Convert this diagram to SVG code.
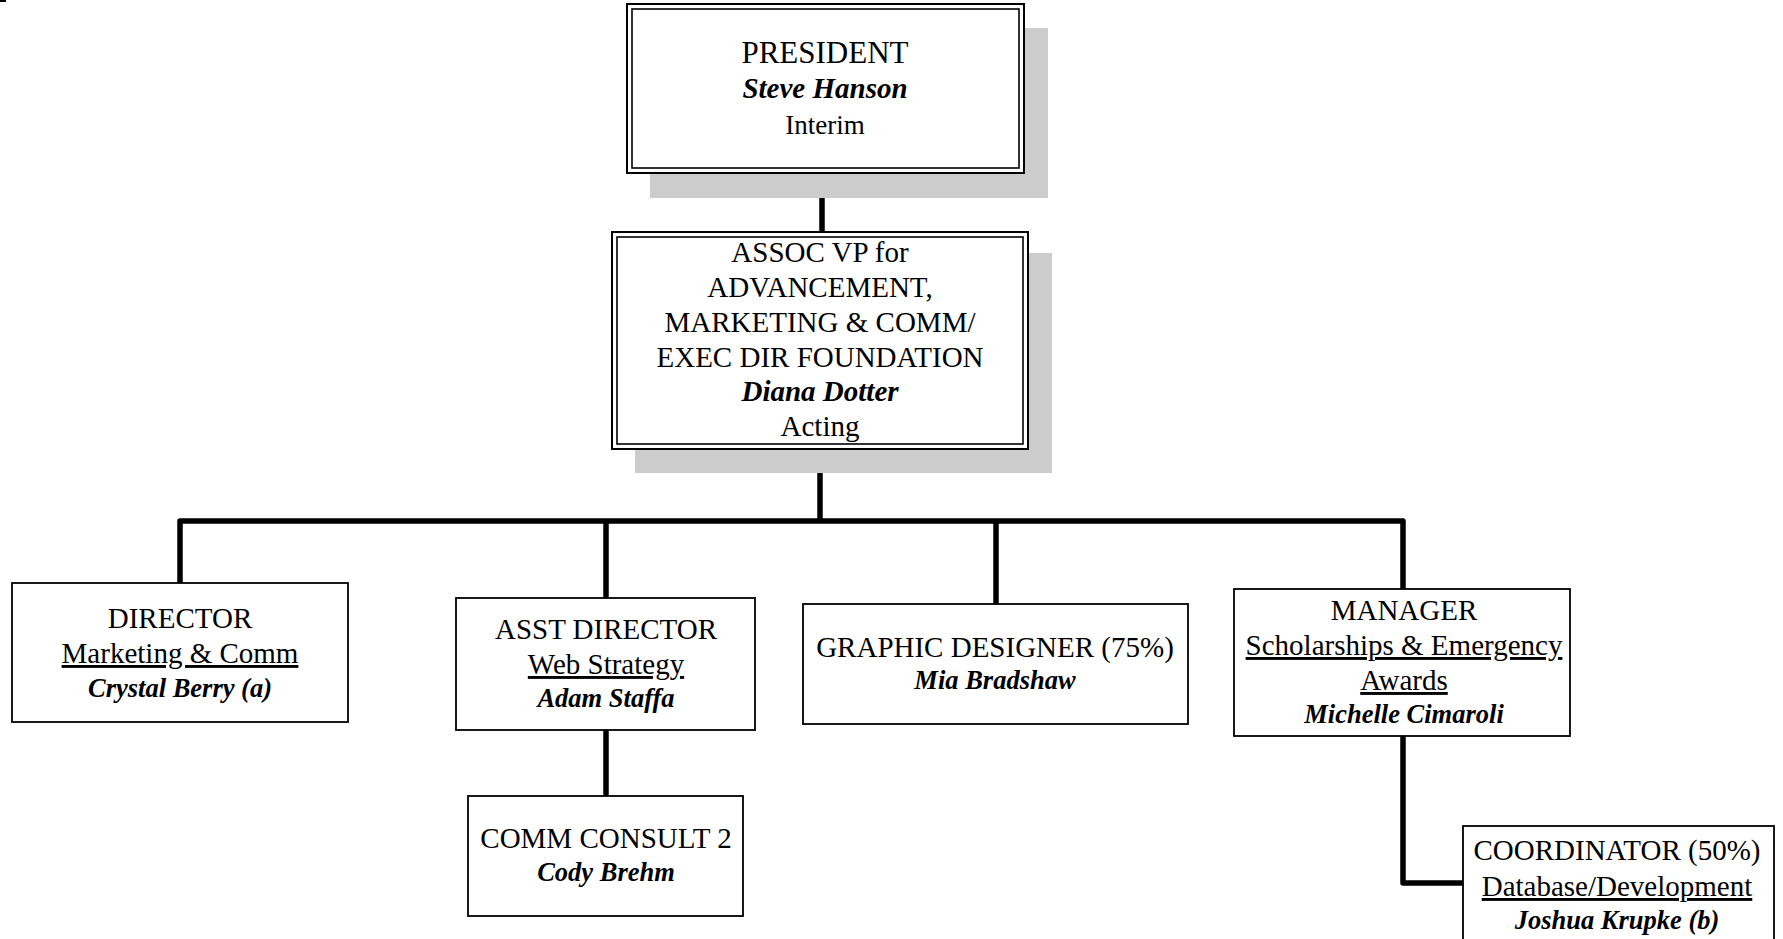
<svg xmlns="http://www.w3.org/2000/svg" width="1783" height="939" viewBox="0 0 1783 939">
<style>
.shadow{fill:#cccccc;stroke:none}
.box{fill:#ffffff;stroke:#000;stroke-width:1.8}
.outer{fill:#ffffff;stroke:#000;stroke-width:2}
.inner{fill:none;stroke:#000;stroke-width:1.6}
.conn{fill:none;stroke:#000;stroke-width:5.5;stroke-linejoin:round;stroke-linecap:butt}
text{font-family:"Liberation Serif","Times New Roman",serif;font-size:29px;fill:#000;text-anchor:middle}
.name{font-weight:bold;font-style:italic;font-size:26.5px}
.topname{font-weight:bold;font-style:italic;font-size:29px}
.u{text-decoration:underline}
</style>
<rect x="0" y="0" width="6" height="2" fill="#000"/>
<g id="connectors">
<path class="conn" d="M822,173 V232"/>
<path class="conn" d="M820,449 V521"/>
<path class="conn" d="M180,583 V521 H1403 V589"/>
<path class="conn" d="M606,521 V598"/>
<path class="conn" d="M996,521 V604"/>
<path class="conn" d="M606,730 V796"/>
<path class="conn" d="M1403,736 V883 H1463"/>
</g>
<g id="president">
<rect class="shadow" x="650" y="28" width="398" height="170"/>
<rect class="outer" x="627" y="4" width="397" height="169"/>
<rect class="inner" x="632" y="9" width="387" height="159"/>
<text x="825" y="63" style="font-size:31px">PRESIDENT</text>
<text class="topname" x="825" y="98">Steve Hanson</text>
<text x="825" y="134" style="font-size:27px">Interim</text>
</g>
<g id="assoc-vp">
<rect class="shadow" x="635" y="253" width="417" height="220"/>
<rect class="outer" x="612" y="232" width="416" height="217"/>
<rect class="inner" x="617" y="237" width="406" height="207"/>
<text x="820" y="262">ASSOC VP for</text>
<text x="820" y="297">ADVANCEMENT,</text>
<text x="820" y="332">MARKETING &amp; COMM/</text>
<text x="820" y="367">EXEC DIR FOUNDATION</text>
<text class="topname" x="820" y="401">Diana Dotter</text>
<text x="820" y="436">Acting</text>
</g>
<g id="director">
<rect class="box" x="12" y="583" width="336" height="139"/>
<text x="180" y="628">DIRECTOR</text>
<text class="u" x="180" y="663">Marketing &amp; Comm</text>
<text class="name" x="180" y="697">Crystal Berry (a)</text>
</g>
<g id="asst-director">
<rect class="box" x="456" y="598" width="299" height="132"/>
<text x="606" y="639">ASST DIRECTOR</text>
<text class="u" x="606" y="674">Web Strategy</text>
<text class="name" x="606" y="707">Adam Staffa</text>
</g>
<g id="comm-consult">
<rect class="box" x="468" y="796" width="275" height="120"/>
<text x="606" y="848">COMM CONSULT 2</text>
<text class="name" x="606" y="881">Cody Brehm</text>
</g>
<g id="graphic-designer">
<rect class="box" x="803" y="604" width="385" height="120"/>
<text x="995" y="657">GRAPHIC DESIGNER (75%)</text>
<text class="name" x="995" y="689">Mia Bradshaw</text>
</g>
<g id="manager">
<rect class="box" x="1234" y="589" width="336" height="147"/>
<text x="1404" y="620">MANAGER</text>
<text class="u" x="1404" y="655">Scholarships &amp; Emergency</text>
<text class="u" x="1404" y="690">Awards</text>
<text class="name" x="1404" y="723">Michelle Cimaroli</text>
</g>
<g id="coordinator">
<rect class="box" x="1463" y="826" width="311" height="130"/>
<text x="1617" y="860">COORDINATOR (50%)</text>
<text class="u" x="1617" y="896">Database/Development</text>
<text class="name" x="1617" y="929">Joshua Krupke (b)</text>
</g>
</svg>
